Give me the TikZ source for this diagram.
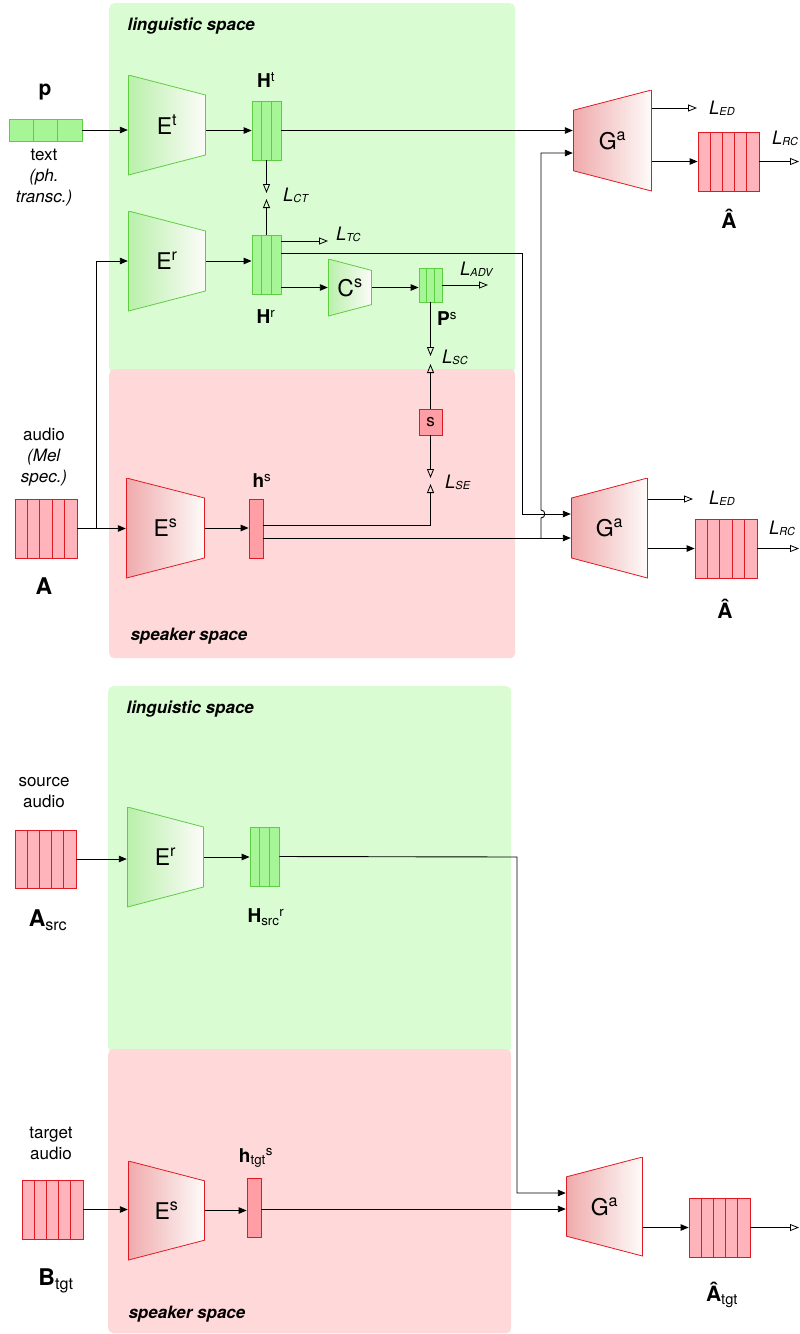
\documentclass[tikz,border=0pt]{standalone}
\usepackage{fontspec}
\setmainfont{TeX Gyre Heros}
\usetikzlibrary{arrows.meta,calc}

\definecolor{lingbg}{RGB}{217,252,211}
\definecolor{spkbg}{RGB}{255,217,217}
\definecolor{gfill}{RGB}{166,245,150}
\definecolor{gline}{RGB}{95,205,65}
\definecolor{gshade}{RGB}{185,240,170}
\definecolor{rfill}{RGB}{255,180,188}
\definecolor{rfilldark}{RGB}{255,158,165}
\definecolor{rline}{RGB}{225,25,35}
\definecolor{rshade}{RGB}{240,170,172}
\definecolor{wshade}{RGB}{253,252,250}

\begin{document}
\begin{tikzpicture}[
    x=1pt, y=-1pt,
    font=\fontsize{17}{21}\selectfont,
    panel/.style={rounded corners=5pt, anchor=north west, inner sep=0pt},
    spacelbl/.style={anchor=west, font=\fontsize{17}{18}\selectfont\bfseries\itshape},
    namelbl/.style={font=\fontsize{19}{20}\selectfont\bfseries},
    biglbl/.style={font=\fontsize{23}{23}\selectfont\bfseries},
    desc/.style={align=center},
    gvec/.style={draw=gline, fill=gfill, line width=0.8pt, inner sep=0pt},
    rvec/.style={draw=rline, fill=rfill, line width=0.8pt, inner sep=0pt},
    dividers/.style 2 args={path picture={
        \foreach \k in {1,...,#1}
            \draw[#2, line width=0.8pt]
                ($(path picture bounding box.south west)!\k/(#1+1)!(path picture bounding box.south east)$) --
                ($(path picture bounding box.north west)!\k/(#1+1)!(path picture bounding box.north east)$);
    }},
    trap/.style n args={5}{inner sep=0pt, font=\fontsize{23}{23}\selectfont, path picture={
        \shadedraw[left color=#3, right color=#4, draw=#5, line width=0.8pt]
            ($(path picture bounding box.north west)!#1!(path picture bounding box.south west)+(0.5pt,0)$) --
            ($(path picture bounding box.north east)!#2!(path picture bounding box.south east)+(-0.5pt,0)$) --
            ($(path picture bounding box.south east)!#2!(path picture bounding box.north east)+(-0.5pt,0)$) --
            ($(path picture bounding box.south west)!#1!(path picture bounding box.north west)+(0.5pt,0)$) -- cycle;
    }},
    genc/.style={trap={0}{0.2}{gshade}{wshade}{gline}},
    renc/.style={trap={0}{0.2}{rshade}{wshade}{rline}},
    rdec/.style={trap={0.2}{0}{rshade}{wshade}{rline}},
    arr/.style={-{Triangle[length=8pt,width=6.5pt]}, line width=0.9pt, black},
    loss/.style={-{Triangle[open,length=9pt,width=7pt]}, line width=0.8pt, black},
    losslbl/.style={anchor=west, inner sep=0pt, font=\fontsize{18.5}{18.5}\selectfont\itshape},
]
    \useasboundingbox (0,0) rectangle (800,1334);

    % ============= Training: panels =============
    \node[panel, fill=lingbg, minimum width=406pt, minimum height=370pt] (ling1) at (109,3) {};
    \node[panel, fill=spkbg, minimum width=406pt, minimum height=289pt] (spk1) at (109,369) {};
    \node[spacelbl] (lingtitle1) at (124,26) {linguistic space};
    \node[spacelbl] (spktitle1) at (127,636) {speaker space};

    % ============= Training: text branch =============
    \node[gvec, minimum width=73pt, minimum height=22pt, dividers={2}{gline}] (p) at (45.5,130) {};
    \node[font=\fontsize{21}{21}\selectfont\bfseries] (plbl) at (45,92) {p};
    \node[desc] (pdesc) at (44,178) {text\\\textit{(ph.}\\\textit{transc.)}};
    \node[genc, minimum width=78pt, minimum height=100pt] (Et) at (167,125) {E\textsuperscript{t}};
    \node[gvec, minimum width=29pt, minimum height=59pt, dividers={2}{gline}] (Ht) at (266.5,130.5) {};
    \node[namelbl] (Htlbl) at (266,80) {H\textsuperscript{\mdseries t}};
    \draw[arr] (p.east) -- (p.east -| Et.west);
    \draw[arr] (Et.east |- Ht) -- (Ht.west);

    % ============= Training: residual branch =============
    \node[genc, minimum width=78pt, minimum height=100pt] (Er) at (167,261) {E\textsuperscript{r}};
    \node[gvec, minimum width=29pt, minimum height=59pt, dividers={2}{gline}] (Hr) at (266.5,264.5) {};
    \node[namelbl] (Hrlbl) at (266,317) {H\textsuperscript{\mdseries r}};
    \node[genc, minimum width=44pt, minimum height=57pt] (Cs) at (350,287.5) {C\textsuperscript{s}};
    \node[gvec, minimum width=23pt, minimum height=34pt, dividers={2}{gline}] (Ps) at (430.5,285) {};
    \node[namelbl] (Pslbl) at (447,319) {P\textsuperscript{\mdseries s}};
    \draw[arr] (Er.east) -- (Er.east -| Hr.west);
    \draw[arr] (Hr.east |- Cs) -- (Cs.west);
    \draw[arr] (Cs.east) -- (Cs.east -| Ps.west);

    \coordinate (ct1) at (266.5,193);
    \coordinate (ct2) at (266.5,199);
    \draw[loss] (Ht.south) -- (ct1);
    \draw[loss] (Hr.north) -- (ct2);
    \node[losslbl] (lct) at (283,195) {L\raisebox{-1pt}{\fontsize{11}{11}\selectfont CT}};
    \coordinate (tc) at (328,241);
    \draw[loss] (Hr.east |- tc) -- (tc);
    \node[losslbl] (ltc) at (336,234) {L\raisebox{-1pt}{\fontsize{11}{11}\selectfont TC}};
    \coordinate (adv) at (488,285);
    \draw[loss] (Ps.east) -- (adv);
    \node[losslbl] (ladv) at (460,269) {L\raisebox{-1pt}{\fontsize{11}{11}\selectfont ADV}};

    % ============= Training: speaker branch =============
    \node[rvec, minimum width=62pt, minimum height=59pt, dividers={4}{rline}] (A) at (46,528.5) {};
    \node[biglbl] (Albl) at (44,586) {A};
    \node[desc] (Adesc) at (44,457) {audio\\\textit{(Mel}\\\textit{spec.)}};
    \node[renc, minimum width=79pt, minimum height=100pt] (Es) at (165.5,528) {E\textsuperscript{s}};
    \node[rvec, fill=rfilldark, minimum width=14pt, minimum height=59pt] (hs) at (256,528.5) {};
    \node[namelbl] (hslbl) at (262,481) {h\textsuperscript{\mdseries s}};
    \node[rvec, fill=rfilldark, minimum width=23pt, minimum height=26pt, font=\fontsize{17}{17}\selectfont] (s) at (430.5,422) {s};
    \coordinate (asplit) at (96,528.5);
    \draw[arr] (A.east) -- (A.east -| Es.west);
    \draw[arr] (asplit) |- (Er.west);
    \draw[arr] (Es.east) -- (Es.east -| hs.west);

    \coordinate (sc1) at (430.5,356);
    \coordinate (sc2) at (430.5,364);
    \draw[loss] (Ps.south) -- (sc1);
    \draw[loss] (s.north) -- (sc2);
    \node[losslbl] (lsc) at (442,357) {L\raisebox{-1pt}{\fontsize{11}{11}\selectfont SC}};
    \coordinate (se1) at (430.5,478);
    \coordinate (se2) at (430.5,484);
    \draw[loss] (s.south) -- (se1);
    \draw[loss] ([yshift=3.5pt]hs.east) -| (se2);
    \node[losslbl] (lse) at (445,482) {L\raisebox{-1pt}{\fontsize{11}{11}\selectfont SE}};

    % ============= Training: decoders =============
    \node[rdec, minimum width=79pt, minimum height=101pt] (Ga1) at (612.5,140.5) {G\textsuperscript{a}};
    \node[rvec, minimum width=61pt, minimum height=59pt, dividers={4}{rline}] (Ahat1) at (728.5,161.5) {};
    \node[font=\fontsize{21}{21}\selectfont\bfseries] (Ahat1lbl) at (729,219) {Â};
    \node[rdec, minimum width=77pt, minimum height=100pt] (Ga2) at (609.5,528) {G\textsuperscript{a}};
    \node[rvec, minimum width=62pt, minimum height=59pt, dividers={4}{rline}] (Ahat2) at (726,548.5) {};
    \node[font=\fontsize{21}{21}\selectfont\bfseries] (Ahat2lbl) at (725,609) {Â};

    \coordinate (g1in2) at ([yshift=-12.5pt]Ga1.west);
    \coordinate (g2in1) at ([yshift=14pt]Ga2.west);
    \coordinate (g2in2) at ([yshift=-10pt]Ga2.west);
    \coordinate (jr) at (522,253);
    \coordinate (jb) at (541,538);
    \draw[arr] (Ht.east) -- (Ht.east -| Ga1.west);
    \draw[arr] ([yshift=11.5pt]Hr.east) -- (jr) |- (g2in1);
    \draw[arr] ([yshift=-9.5pt]hs.east) -- (g2in2);
    \draw[arr] (jb) -- (541,518) .. controls (546,518) and (546,510) .. (541,510) |- (g1in2);

    \coordinate (ed1) at (697,108);
    \draw[loss] ([yshift=32.5pt]Ga1.east) -- (ed1);
    \node[losslbl] (led1) at (709,108) {L\raisebox{-1pt}{\fontsize{11}{11}\selectfont ED}};
    \draw[arr] (Ga1.east |- Ahat1) -- (Ahat1.west);
    \coordinate (rc1) at (799,161.5);
    \draw[loss] (Ahat1.east) -- (rc1);
    \node[losslbl] (lrc1) at (772,138) {L\raisebox{-1pt}{\fontsize{11}{11}\selectfont RC}};

    \coordinate (ed2) at (693,499);
    \draw[loss] ([yshift=29pt]Ga2.east) -- (ed2);
    \node[losslbl] (led2) at (709,498) {L\raisebox{-1pt}{\fontsize{11}{11}\selectfont ED}};
    \draw[arr] (Ga2.east |- Ahat2) -- (Ahat2.west);
    \coordinate (rc2) at (799,548.5);
    \draw[loss] (Ahat2.east) -- (rc2);
    \node[losslbl] (lrc2) at (769,528) {L\raisebox{-1pt}{\fontsize{11}{11}\selectfont RC}};

    % ============= Conversion: panels =============
    \node[panel, fill=lingbg, minimum width=403pt, minimum height=366pt] (ling2) at (108,686) {};
    \node[panel, fill=spkbg, minimum width=403pt, minimum height=284pt] (spk2) at (108,1049) {};
    \node[spacelbl] (lingtitle2) at (123,709) {linguistic space};
    \node[spacelbl] (spktitle2) at (125,1314) {speaker space};

    % ============= Conversion: source =============
    \node[rvec, minimum width=61pt, minimum height=58pt, dividers={4}{rline}] (Asrc) at (45.5,859) {};
    \node[desc] (Asrcdesc) at (44,793) {source\\audio};
    \node[biglbl] (Asrclbl) at (48,920) {A\textsubscript{\mdseries src}};
    \node[genc, minimum width=77pt, minimum height=100pt] (Er2) at (165.5,857) {E\textsuperscript{r}};
    \node[gvec, minimum width=29pt, minimum height=59pt, dividers={2}{gline}] (Hsrc) at (264.5,856.5) {};
    \node[namelbl] (Hsrclbl) at (266,917) {H\textsubscript{\mdseries src}\textsuperscript{\mdseries r}};
    \draw[arr] (Asrc.east) -- (Asrc.east -| Er2.west);
    \draw[arr] (Er2.east) -- (Er2.east -| Hsrc.west);

    % ============= Conversion: target =============
    \node[rvec, minimum width=61pt, minimum height=59pt, dividers={4}{rline}] (Btgt) at (52.5,1209.5) {};
    \node[desc] (Btgtdesc) at (51,1143) {target\\audio};
    \node[biglbl] (Btgtlbl) at (56,1281) {B\textsubscript{\mdseries tgt}};
    \node[renc, minimum width=77pt, minimum height=99pt] (Es2) at (166.5,1210.5) {E\textsuperscript{s}};
    \node[rvec, fill=rfilldark, minimum width=14pt, minimum height=59pt] (htgt) at (254,1207.5) {};
    \node[namelbl] (htgtlbl) at (256,1158) {h\textsubscript{\mdseries tgt}\textsuperscript{\mdseries s}};
    \draw[arr] (Btgt.east) -- (Btgt.east -| Es2.west);
    \draw[arr] (Es2.east) -- (Es2.east -| htgt.west);

    % ============= Conversion: decoder =============
    \node[rdec, minimum width=77pt, minimum height=99pt] (Ga3) at (604.5,1206.5) {G\textsuperscript{a}};
    \node[rvec, minimum width=61pt, minimum height=59pt, dividers={4}{rline}] (Ahat3) at (719.5,1227.5) {};
    \node[font=\fontsize{21}{21}\selectfont\bfseries] (Ahat3lbl) at (722,1295) {Â\textsubscript{\mdseries tgt}};
    \coordinate (g3in1) at ([yshift=13.5pt]Ga3.west);
    \coordinate (g3in2) at ([yshift=-2.5pt]Ga3.west);
    \coordinate (jsrc) at (517,857);
    \draw[arr] (Hsrc.east) -- (jsrc) |- (g3in1);
    \draw[arr] (htgt.east |- g3in2) -- (g3in2);
    \draw[arr] (Ga3.east |- Ahat3) -- (Ahat3.west);
    \coordinate (out3) at (799,1227.5);
    \draw[loss] (Ahat3.east) -- (out3);
\end{tikzpicture}
\end{document}
